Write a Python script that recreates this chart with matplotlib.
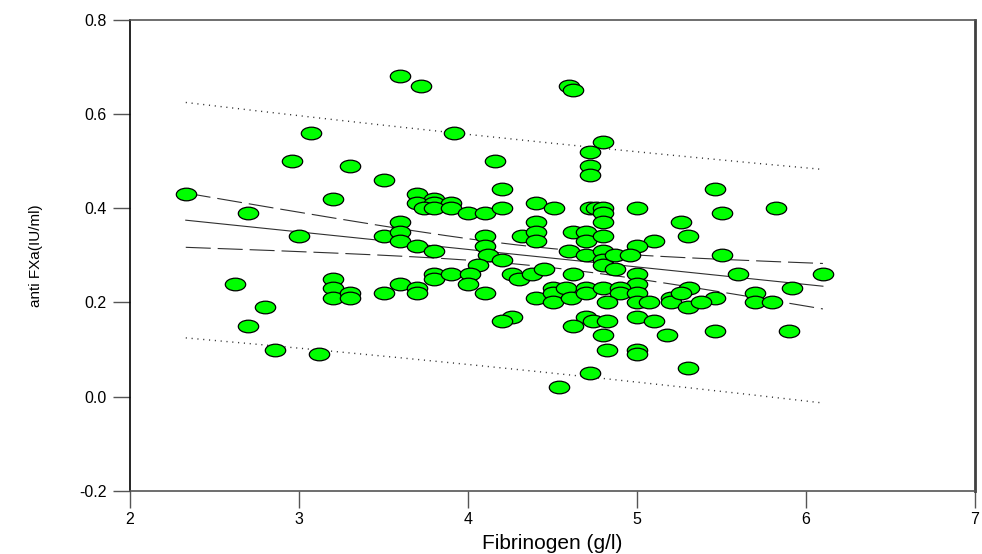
import numpy as np
import matplotlib
matplotlib.use("Agg")
import matplotlib.pyplot as plt
from matplotlib.path import Path
from matplotlib.transforms import Affine2D

plt.rcParams['font.family'] = ['Liberation Sans', 'DejaVu Sans']
plt.rcParams['lines.scale_dashes'] = False

# ---- data ----
fib = [
    2.33, 2.62, 2.70, 2.70, 2.80, 2.86, 2.96, 3.00, 3.07, 3.12,
    3.20, 3.20, 3.20, 3.20, 3.30, 3.30, 3.30, 3.50, 3.50, 3.50,
    3.60, 3.72, 3.92, 4.16, 4.20,
    3.70, 3.80, 3.70, 3.80, 3.90, 3.74, 3.80, 3.90, 4.00, 4.10, 4.20, 4.40, 4.51,
    3.60, 3.60, 3.60, 3.70, 3.80,
    4.10, 4.10, 4.12, 4.20, 4.06,
    4.32, 4.40, 4.40, 4.40,
    3.80, 3.80, 3.90, 4.01, 4.00, 4.26, 4.30, 4.38, 4.45,
    3.60, 3.70, 3.70, 4.10, 4.40,
    4.50, 4.50, 4.50, 4.58, 4.61,
    4.26, 4.20, 4.54,
    4.60, 4.62, 4.80, 4.72, 4.72, 4.72,
    4.72, 4.76, 4.80, 4.80, 5.00,
    4.80, 5.26, 5.30,
    4.62, 4.70, 4.70, 4.80, 5.10, 5.00,
    4.60, 4.70, 4.80, 4.80, 4.80, 4.87, 4.96, 4.87,
    4.62, 5.00, 5.00,
    4.70, 4.70, 4.80, 4.90, 4.90, 5.00,
    4.82, 5.00, 5.07, 5.20, 5.20, 5.30, 5.31, 5.26,
    4.70, 4.74, 4.82, 4.62, 5.00, 5.10,
    4.80, 5.18, 4.82, 5.00, 5.00, 5.30, 4.72,
    5.46, 5.50, 5.82, 5.50, 5.60, 6.10, 5.92, 5.70, 5.70, 5.80, 5.46, 5.38, 5.46, 5.90,
]
antifxa = [
    0.43, 0.24, 0.39, 0.15, 0.19, 0.10, 0.50, 0.34, 0.56, 0.09,
    0.42, 0.25, 0.23, 0.21, 0.49, 0.22, 0.21, 0.46, 0.34, 0.22,
    0.68, 0.66, 0.56, 0.50, 0.44,
    0.43, 0.42, 0.41, 0.41, 0.41, 0.40, 0.40, 0.40, 0.39, 0.39, 0.40, 0.41, 0.40,
    0.37, 0.35, 0.33, 0.32, 0.31,
    0.34, 0.32, 0.30, 0.29, 0.28,
    0.34, 0.37, 0.35, 0.33,
    0.26, 0.25, 0.26, 0.26, 0.24, 0.26, 0.25, 0.26, 0.27,
    0.24, 0.23, 0.22, 0.22, 0.21,
    0.23, 0.22, 0.20, 0.23, 0.21,
    0.17, 0.16, 0.02,
    0.66, 0.65, 0.54, 0.52, 0.49, 0.47,
    0.40, 0.40, 0.40, 0.39, 0.40,
    0.37, 0.37, 0.34,
    0.35, 0.35, 0.33, 0.34, 0.33, 0.32,
    0.31, 0.30, 0.31, 0.29, 0.28, 0.30, 0.30, 0.27,
    0.26, 0.26, 0.24,
    0.23, 0.22, 0.23, 0.23, 0.22, 0.22,
    0.20, 0.20, 0.20, 0.21, 0.20, 0.19, 0.23, 0.22,
    0.17, 0.16, 0.16, 0.15, 0.17, 0.16,
    0.13, 0.13, 0.10, 0.10, 0.09, 0.06, 0.05,
    0.44, 0.39, 0.40, 0.30, 0.26, 0.26, 0.23, 0.22, 0.20, 0.20, 0.21, 0.20, 0.14, 0.14,
]
x_ticks = [2, 3, 4, 5, 6, 7]
y_ticks = [-0.2, 0.0, 0.2, 0.4, 0.6, 0.8]
x_label = "Fibrinogen (g/l)"
y_label = "anti FXa(IU/ml)"

x = np.array(fib)
y = np.array(antifxa)

# ---- linear regression with 95% confidence and prediction bands ----
n = len(x)
b1, b0 = np.polyfit(x, y, 1)
resid = y - (b0 + b1 * x)
s = np.sqrt(np.sum(resid ** 2) / (n - 2))
t = 1.976
xm = x.mean()
sxx = np.sum((x - xm) ** 2)
xf = np.linspace(x.min(), x.max(), 200)
yf = b0 + b1 * xf
ci = t * s * np.sqrt(1 / n + (xf - xm) ** 2 / sxx)
pi = t * s * np.sqrt(1 + 1 / n + (xf - xm) ** 2 / sxx)

# ---- figure ----
fig = plt.figure(figsize=(9.82, 5.54), dpi=100)
ax = fig.add_axes([130 / 982, 1 - 491 / 554, 845 / 982, (491 - 19.5) / 554])

lc = '#303030'
ax.plot(xf, yf, color=lc, lw=0.8, zorder=1)
ax.plot(xf, yf + ci, color=lc, lw=0.8, dashes=(18, 5), zorder=1)
ax.plot(xf, yf - ci, color=lc, lw=0.8, dashes=(18, 5), zorder=1)
ax.plot(xf, yf + pi, color=lc, lw=1.0, dashes=(0.8, 3.4), zorder=1)
ax.plot(xf, yf - pi, color=lc, lw=1.0, dashes=(0.8, 3.4), zorder=1)

circ = Path.unit_circle()
ell = circ.transformed(Affine2D().scale(1.0, 0.62))
ax.scatter(x, y, marker=ell, s=215, facecolor='#00ff00', edgecolor='black',
           linewidth=0.9, zorder=3)

ax.set_xlim(2, 7)
ax.set_ylim(-0.2, 0.8)
ax.set_xticks(x_ticks)
ax.set_xticklabels([str(v) for v in x_ticks])
ax.set_yticks(y_ticks)
ax.set_yticklabels([f"{v:.1f}" for v in y_ticks])

ax.spines['left'].set_color('black')
ax.spines['left'].set_linewidth(1.2)
for side in ['top', 'bottom']:
    ax.spines[side].set_color('#555555')
    ax.spines[side].set_linewidth(1.2)
ax.spines['right'].set_color('#404040')
ax.spines['right'].set_linewidth(2.0)

ax.tick_params(axis='both', direction='out', length=12, width=1.0,
               color='#555555', labelsize=11.5, labelcolor='black')
ax.tick_params(axis='y', pad=5)
ax.tick_params(axis='x', pad=3)

ax.set_xlabel(x_label, fontsize=15, labelpad=5)
ax.set_ylabel(y_label, fontsize=11, labelpad=26)

fig.savefig("out.png", dpi=100)
